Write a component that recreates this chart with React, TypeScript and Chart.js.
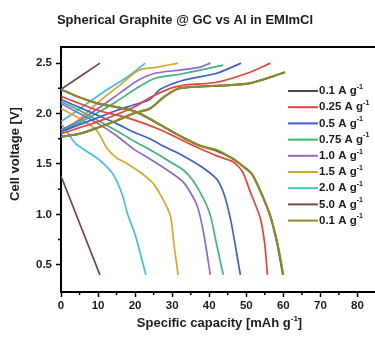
import React, { useEffect, useRef } from "react";
import { Chart, registerables } from "chart.js";

Chart.register(...registerables);

type P = [number, number];

// ---- data (specific capacity [mAh/g], cell voltage [V]) ----
const rateLabels = ["0.1", "0.25", "0.5", "0.75", "1.0", "1.5", "2.0", "5.0", "0.1"];
const rateColors = ["#4d4a45", "#e8423c", "#3f5fcc", "#3db57a", "#8c68cf", "#d8a62a", "#42bfdc", "#6e4a3e", "#8e8a26"];

const charge01a: P[] = [[0, 1.77], [5, 1.8], [10, 1.86], [15, 1.93], [19.5, 2.0], [24, 2.05], [28, 2.17], [32, 2.25], [45, 2.28], [51, 2.3], [57.3, 2.37], [60.3, 2.41]];
const discharge01a: P[] = [[0, 2.24], [5, 2.16], [10, 2.1], [20, 2.02], [27.6, 1.87], [33, 1.76], [37.6, 1.68], [42, 1.63], [46, 1.56], [49, 1.48], [51.5, 1.4], [53.8, 1.23], [56.5, 0.98], [58.4, 0.7], [59.9, 0.4]];

const charge025: P[] = [[0, 1.8], [5, 1.86], [10, 1.92], [15, 1.99], [20, 2.07], [24, 2.16], [29.5, 2.25], [33, 2.28], [42, 2.31], [51, 2.41], [56.5, 2.5]];
const discharge025: P[] = [[0, 2.17], [5, 2.1], [10, 2.03], [18.6, 1.95], [26.8, 1.84], [33, 1.73], [37.6, 1.65], [42, 1.58], [46.5, 1.52], [49, 1.42], [51, 1.23], [53.8, 0.96], [55, 0.7], [55.7, 0.4]];

const charge05: P[] = [[0, 1.82], [5, 1.89], [10, 1.96], [15, 2.03], [20, 2.09], [24, 2.14], [26.8, 2.24], [33, 2.33], [42, 2.4], [48.6, 2.5]];
const discharge05: P[] = [[0, 2.14], [5, 2.06], [10, 1.98], [15, 1.9], [20, 1.81], [24, 1.75], [28, 1.67], [33, 1.58], [38, 1.47], [42, 1.35], [44, 1.2], [45.7, 0.96], [47, 0.7], [48.4, 0.4]];

const charge075: P[] = [[0, 1.83], [5, 1.91], [10, 2.01], [15, 2.12], [20.8, 2.26], [25.4, 2.35], [32, 2.39], [37.6, 2.43], [43.8, 2.48]];
const discharge075: P[] = [[0, 2.12], [5, 2.03], [10, 1.93], [15, 1.83], [20, 1.72], [24, 1.64], [29.5, 1.52], [33, 1.44], [35.7, 1.33], [38.5, 1.15], [40.3, 0.99], [42, 0.7], [43.8, 0.4]];

const charge10: P[] = [[0, 1.84], [5, 1.93], [10, 2.05], [16.5, 2.22], [20.8, 2.33], [25.4, 2.4], [32, 2.43], [37.6, 2.46], [40.3, 2.5]];
const discharge10: P[] = [[0, 2.1], [5, 2.0], [10, 1.9], [15, 1.78], [19.5, 1.65], [24, 1.55], [27, 1.48], [33, 1.32], [36.7, 1.09], [38.4, 0.83], [40.3, 0.4]];

const charge15: P[] = [[0, 1.82], [3.8, 1.91], [10, 2.11], [16.5, 2.3], [21, 2.43], [26, 2.46], [31.6, 2.5]];
const discharge15: P[] = [[0, 2.05], [5, 1.95], [9.5, 1.84], [12.5, 1.65], [15, 1.56], [18, 1.5], [22, 1.4], [25, 1.3], [27.5, 1.15], [29.5, 0.99], [30.5, 0.7], [31.6, 0.4]];

const charge20: P[] = [[0, 1.92], [4, 2.02], [8.6, 2.14], [13, 2.25], [17.8, 2.36], [20, 2.42], [22.7, 2.5]];
const discharge20: P[] = [[0, 1.9], [2, 1.8], [4, 1.7], [10, 1.55], [14, 1.4], [16.5, 1.2], [18, 1.0], [20, 0.8], [22.9, 0.4]];

const charge50: P[] = [[0, 2.24], [10.5, 2.5]];
const discharge50: P[] = [[0, 1.38], [10.5, 0.4]];

const charge01b: P[] = [[0, 1.77], [5, 1.8], [10, 1.86], [15, 1.93], [19.5, 2.0], [24, 2.05], [28, 2.17], [32, 2.25], [45, 2.28], [51, 2.3], [57.3, 2.37], [60.5, 2.41]];
const discharge01b: P[] = [[0, 2.24], [5, 2.16], [10, 2.1], [20, 2.02], [27.6, 1.87], [33, 1.76], [37.6, 1.68], [42, 1.64], [46, 1.56], [49, 1.48], [51.5, 1.4], [53.8, 1.23], [56.5, 0.98], [58.5, 0.7], [60, 0.4]];

const chargeCurves = [charge01a, charge025, charge05, charge075, charge10, charge15, charge20, charge50, charge01b];
const dischargeCurves = [discharge01a, discharge025, discharge05, discharge075, discharge10, discharge15, discharge20, discharge50, discharge01b];

const xMajorTicks = [0, 10, 20, 30, 40, 50, 60, 70, 80];
const xMinorTicks = [5, 15, 25, 35, 45, 55, 65, 75];
const yMajorTicks = [0.5, 1.0, 1.5, 2.0, 2.5];
const yMinorTicks = [0.75, 1.25, 1.75, 2.25];

const titleText = "Spherical Graphite @ GC vs Al in EMImCl";
const xTitle = "Specific capacity [mAh g";
const yTitle = "Cell voltage [V]";

const FONT = "'Liberation Sans', Arial, Helvetica, sans-serif";
const INK = "#1c1c1c";

function drawWithSup(ctx: CanvasRenderingContext2D, base: string, sup: string, tail: string, x: number, y: number, size: number, align: "left" | "center") {
  const supSize = size * 0.62;
  ctx.font = `bold ${size}px ${FONT}`;
  const wb = ctx.measureText(base).width;
  const wt = ctx.measureText(tail).width;
  ctx.font = `bold ${supSize}px ${FONT}`;
  const ws = ctx.measureText(sup).width;
  const total = wb + ws + wt;
  let cx = align === "center" ? x - total / 2 : x;
  ctx.textAlign = "left";
  ctx.textBaseline = "middle";
  ctx.font = `bold ${size}px ${FONT}`;
  ctx.fillText(base, cx, y);
  cx += wb;
  ctx.font = `bold ${supSize}px ${FONT}`;
  ctx.fillText(sup, cx, y - size * 0.36);
  cx += ws;
  ctx.font = `bold ${size}px ${FONT}`;
  if (tail) ctx.fillText(tail, cx, y);
}

const decorPlugin = {
  id: "decor",
  afterDraw(chart: any) {
    const ctx: CanvasRenderingContext2D = chart.ctx;
    const { left, right, top, bottom } = chart.chartArea;
    const xs = chart.scales.x;
    const ys = chart.scales.y;
    ctx.save();
    // top border
    ctx.strokeStyle = "#000";
    ctx.lineWidth = 2;
    ctx.beginPath();
    ctx.moveTo(left - 1, top);
    ctx.lineTo(right, top);
    ctx.stroke();
    // minor ticks
    ctx.lineWidth = 1.5;
    ctx.beginPath();
    xMinorTicks.forEach((v) => {
      const px = xs.getPixelForValue(v);
      ctx.moveTo(px, bottom);
      ctx.lineTo(px, bottom + 3);
    });
    yMinorTicks.forEach((v) => {
      const py = ys.getPixelForValue(v);
      ctx.moveTo(left, py);
      ctx.lineTo(left - 3, py);
    });
    ctx.stroke();

    ctx.fillStyle = INK;
    // title
    ctx.font = `bold 13px ${FONT}`;
    ctx.textAlign = "center";
    ctx.textBaseline = "middle";
    ctx.fillText(titleText, 185, 20);
    // x title
    drawWithSup(ctx, xTitle, "-1", "]", (left + right) / 2 + 1, 323, 13, "center");
    // y title
    ctx.save();
    ctx.translate(15, 154);
    ctx.rotate(-Math.PI / 2);
    ctx.font = `bold 13px ${FONT}`;
    ctx.textAlign = "center";
    ctx.textBaseline = "middle";
    ctx.fillText(yTitle, 0, 0);
    ctx.restore();

    // legend
    const lx = left + 227;
    const ly = top + 44;
    chart.data.datasets.forEach((ds: any, i: number) => {
      const y = ly + i * 16.2;
      ctx.strokeStyle = ds.borderColor;
      ctx.lineWidth = 2;
      ctx.beginPath();
      ctx.moveTo(lx, y);
      ctx.lineTo(lx + 30, y);
      ctx.stroke();
      ctx.fillStyle = INK;
      drawWithSup(ctx, ds.label + " A g", "-1", "", lx + 31, y, 11.5, "left");
    });
    ctx.restore();
  },
};

export default function App() {
  const ref = useRef<HTMLCanvasElement | null>(null);
  useEffect(() => {
    if (!ref.current) return;
    const datasets = rateLabels.map((lab, i) => ({
      label: lab,
      data: [
        ...chargeCurves[i].map(([x, y]) => ({ x, y })),
        { x: chargeCurves[i][chargeCurves[i].length - 1][0], y: null as any },
        ...dischargeCurves[i].map(([x, y]) => ({ x, y })),
      ],
      borderColor: rateColors[i],
      backgroundColor: rateColors[i],
      borderWidth: i === 0 || i === 8 ? 2 : 1.7,
      pointRadius: 0,
      tension: 0.25,
      spanGaps: false,
      fill: false,
      order: i === 8 ? -1 : i,
    }));
    const tickFont = { family: FONT, size: 11.5, weight: "bold" as const };
    const chart = new Chart(ref.current, {
      type: "line",
      data: { datasets },
      plugins: [decorPlugin],
      options: {
        animation: false,
        responsive: false,
        layout: { padding: { left: 0, top: 47, right: 0, bottom: 0 } },
        plugins: { legend: { display: false }, title: { display: false }, tooltip: { enabled: false } },
        scales: {
          x: {
            type: "linear",
            min: 0,
            max: 85,
            afterFit: (s: any) => { s.height = 46; },
            afterBuildTicks: (s: any) => { s.ticks = xMajorTicks.map((v) => ({ value: v })); },
            ticks: { font: tickFont, color: INK, padding: 2, maxRotation: 0, autoSkip: false, includeBounds: false },
            grid: { display: true, drawOnChartArea: false, drawTicks: true, tickLength: 5, tickColor: "#000", tickWidth: 1.5 },
            border: { display: true, color: "#000", width: 2 },
          },
          y: {
            type: "linear",
            min: 0.23,
            max: 2.66,
            afterFit: (s: any) => { s.width = 61; },
            afterBuildTicks: (s: any) => { s.ticks = yMajorTicks.map((v) => ({ value: v })); },
            ticks: { font: tickFont, color: INK, padding: 4, autoSkip: false, includeBounds: false, callback: (v: any) => Number(v).toFixed(1) },
            grid: { display: true, drawOnChartArea: false, drawTicks: true, tickLength: 5, tickColor: "#000", tickWidth: 1.5 },
            border: { display: true, color: "#000", width: 2 },
          },
        },
      },
    });
    return () => chart.destroy();
  }, []);
  return (
    <div style={{ position: "absolute", left: 0, top: 0, width: 375, height: 338, overflow: "hidden", background: "#fff" }}>
      <canvas ref={ref} width={376} height={338} style={{ display: "block", width: 376, height: 338 }} />
    </div>
  );
}
